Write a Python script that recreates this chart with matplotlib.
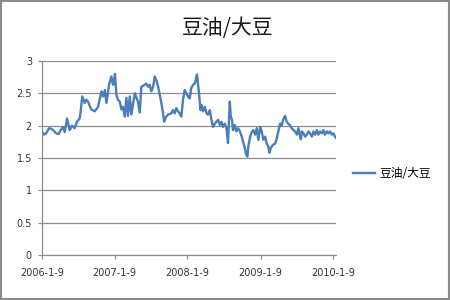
import numpy as np
import matplotlib
matplotlib.use("Agg")
import matplotlib.pyplot as plt
import matplotlib.dates as mdates
from matplotlib.patches import Rectangle

plt.rcParams['font.family'] = ['Noto Sans CJK SC', 'DejaVu Sans']

title = "豆油/大豆"
series_name = "豆油/大豆"
start_date = "2006-01-09"

# days since 2006-01-09
day_offsets = [
    0, 12, 22, 37, 48, 57, 73, 85, 95, 107, 115, 127, 140, 152, 165, 177, 190, 195, 203, 215, 223,
    232, 248, 266, 282, 299, 307, 316, 324, 337, 349, 357, 362, 367, 374, 382, 391, 399, 407, 416,
    424, 432, 441, 449, 466, 482, 491, 499, 516, 524, 533, 541, 549, 558, 566, 574, 583, 591, 599,
    608, 613, 624, 633, 649, 658, 666, 674, 683, 691, 699, 708, 716, 724, 733, 741, 749, 758, 767,
    775, 778, 787, 795, 800, 808, 817, 825, 833, 842, 850, 858, 867, 875, 883, 892, 900, 908, 917,
    925, 933, 942, 947, 953, 958, 967, 975, 983, 993, 1002, 1010, 1019, 1024, 1030, 1035, 1044,
    1052, 1060, 1069, 1077, 1085, 1094, 1102, 1110, 1119, 1127, 1135, 1140, 1147, 1157, 1169, 1177,
    1185, 1194, 1202, 1210, 1219, 1227, 1235, 1244, 1252, 1261, 1269, 1278, 1286, 1294, 1298, 1303,
    1311, 1319, 1328, 1336, 1344, 1353, 1361, 1369, 1378, 1386, 1394, 1403, 1411, 1419, 1428, 1436,
    1444, 1453, 1461, 1469, 1474,
]
ratio = [
    1.91, 1.86, 1.88, 1.96, 1.95, 1.93, 1.88, 1.87, 1.93, 1.98, 1.90, 2.11, 1.93, 2.00, 1.96, 2.06, 2.11, 2.22, 2.45, 2.35, 2.40,
    2.37, 2.25, 2.22, 2.29, 2.53, 2.45, 2.55, 2.35, 2.63, 2.76, 2.63, 2.70, 2.80, 2.48, 2.40, 2.37, 2.25, 2.29, 2.14,
    2.43, 2.15, 2.45, 2.17, 2.50, 2.37, 2.20, 2.60, 2.63, 2.65, 2.60, 2.63, 2.53, 2.60, 2.76, 2.70, 2.60, 2.48, 2.35,
    2.19, 2.06, 2.14, 2.17, 2.19, 2.24, 2.19, 2.27, 2.22, 2.19, 2.14, 2.40, 2.55, 2.50, 2.45, 2.42, 2.58, 2.63, 2.65,
    2.76, 2.79, 2.52, 2.24, 2.32, 2.22, 2.29, 2.19, 2.17, 2.24, 2.09, 1.98, 2.03, 2.06, 2.09, 2.01, 2.06, 1.98, 2.03,
    1.96, 1.73, 2.37, 2.14, 2.09, 1.93, 2.01, 1.91, 1.96, 1.91, 1.83, 1.73, 1.63, 1.55, 1.52, 1.68, 1.83,
    1.90, 1.93, 1.86, 1.96, 1.78, 1.98, 1.91, 1.78, 1.83, 1.72, 1.68, 1.58, 1.65, 1.70, 1.72, 1.80,
    1.91, 2.03, 2.00, 2.10, 2.15, 2.06, 2.03, 2.00, 1.96, 1.93, 1.91, 1.86, 1.96, 1.83, 1.79, 1.91,
    1.88, 1.83, 1.86, 1.91, 1.88, 1.83, 1.91, 1.86, 1.93, 1.86, 1.91, 1.88, 1.93, 1.86, 1.91, 1.88,
    1.91, 1.86, 1.88, 1.83, 1.81,
]
tick_dates = ["2006-01-09", "2007-01-09", "2008-01-09", "2009-01-09", "2010-01-09"]
tick_labels = ["2006-1-9", "2007-1-9", "2008-1-9", "2009-1-9", "2010-1-9"]
y_ticks = [0, 0.5, 1, 1.5, 2, 2.5, 3]
y_labels = ["0", "0.5", "1", "1.5", "2", "2.5", "3"]

dates = np.datetime64(start_date) + np.array(day_offsets).astype('timedelta64[D]')

fig = plt.figure(figsize=(4.5, 3.0), dpi=100)
fig.patch.set_facecolor("white")
fig.add_artist(Rectangle((0.002, 0.002), 0.996, 0.996, transform=fig.transFigure,
                         fill=False, edgecolor="#8a8a8a", linewidth=1.5))

ax = fig.add_axes([0.0927, 0.150, 0.654, 0.647])
ax.plot(dates, ratio, color="#4A7EBB", linewidth=1.7, label=series_name, solid_joinstyle="round")

ax.set_ylim(0, 3)
ax.set_yticks(y_ticks)
ax.set_yticklabels(y_labels)
ax.set_xlim(dates[0], dates[-1])
ax.set_xticks([np.datetime64(d) for d in tick_dates])
ax.set_xticklabels(tick_labels)

ax.grid(axis="y", color="#8c8c8c", linewidth=0.9)
ax.set_axisbelow(True)
for s in ["top", "right"]:
    ax.spines[s].set_visible(False)
for s in ["left", "bottom"]:
    ax.spines[s].set_color("#8c8c8c")
    ax.spines[s].set_linewidth(0.9)
ax.tick_params(axis="both", colors="#8c8c8c", length=3, width=0.9, labelsize=7,
               labelcolor="#333333")
ax.tick_params(axis="x", pad=6)
ax.tick_params(axis="y", pad=4)
for lab in ax.get_xticklabels() + ax.get_yticklabels():
    lab.set_family(["DejaVu Sans"])

fig.text(0.505, 0.905, title, ha="center", va="center", fontsize=15, color="#1a1a1a")

leg = ax.legend(loc="center left", bbox_to_anchor=(1.02, 0.42), frameon=False,
                fontsize=8.5, handlelength=1.9, handletextpad=0.4)

fig.savefig("out.png", dpi=100)
